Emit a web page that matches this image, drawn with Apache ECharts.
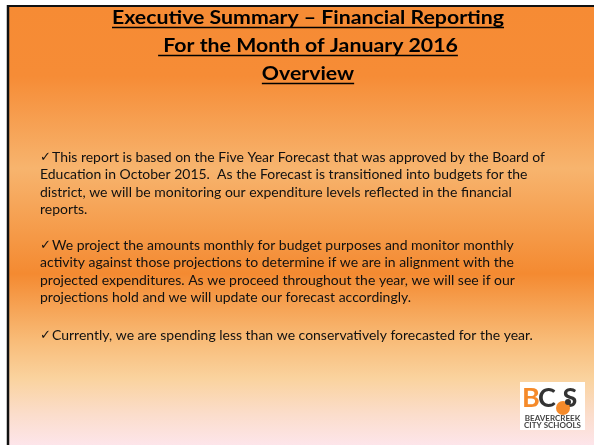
<!DOCTYPE html>
<html>
<head>
<meta charset="utf-8">
<script src="https://cdn.jsdelivr.net/npm/echarts@6/dist/echarts.min.js"></script>
<style>
html,body{margin:0;padding:0;background:#fff;}
#main{width:594px;height:445px;}
</style>
</head>
<body>
<div id="main"></div>
<script>
// ---- content ----
const titleLines = [
  "Executive Summary \u2013 Financial Reporting",
  " For the Month of January 2016",
  "Overview"
];
const bulletMark = "\u2713";
const paragraph1 = [
  "This report is based on the Five Year Forecast that was approved by the Board of",
  "Education in October 2015.  As the Forecast is transitioned into budgets for the",
  "district, we will be monitoring our expenditure levels reflected in the financial",
  "reports."
];
const paragraph2 = [
  "We project the amounts monthly for budget purposes and monitor monthly",
  "activity against those projections to determine if we are in alignment with the",
  "projected expenditures. As we proceed throughout the year, we will see if our",
  "projections hold and we will update our forecast accordingly."
];
const paragraph3 = [
  "Currently, we are spending less than we conservatively forecasted for the year."
];
const logoLetters = ["B", "C", "S"];
const logoLines = ["BEAVERCREEK", "CITY SCHOOLS"];

// ---- layout ----
const W = 594, H = 445;
const titleFont = 'bold 19px Lato';
const bodyFont = '14px Lato';
const checkFont = '13px "DejaVu Sans"';
const cv = document.createElement('canvas').getContext('2d');
function measure(font, s){ cv.font = font; return cv.measureText(s).width; }
const titleScale = 392 / measure(titleFont, titleLines[0]);
const bodyScale = (545 - 52) / measure(bodyFont, paragraph1[0]);

const chart = echarts.init(document.getElementById('main'), null, {renderer:'canvas'});
const elements = [];

// slide background
elements.push({
  type:'rect', shape:{x:8, y:6, width:W-8, height:H-6}, silent:true,
  style:{fill:{type:'linear', x:0, y:0, x2:0, y2:1, colorStops:[
    {offset:0.00, color:'#F68B34'},
    {offset:0.16, color:'#F68C36'},
    {offset:0.37, color:'#F7B46E'},
    {offset:0.61, color:'#F48A31'},
    {offset:0.76, color:'#F8BB77'},
    {offset:0.85, color:'#FAD39F'},
    {offset:0.93, color:'#FBDDCB'},
    {offset:1.00, color:'#FDE5EA'}
  ]}}
});
// border
elements.push({type:'line', shape:{x1:7, y1:6, x2:W, y2:6}, style:{stroke:'#111', lineWidth:2}});
elements.push({type:'line', shape:{x1:8, y1:5, x2:8, y2:H}, style:{stroke:'#111', lineWidth:2.5}});

// title
const titleCx = 308;
const titleY = [18, 46, 74];
titleLines.forEach((t, i) => {
  const w = measure(titleFont, t) * titleScale;
  elements.push({
    type:'text', x:titleCx, y:titleY[i], scaleX:titleScale, originX:0,
    style:{text:t, font:titleFont, fill:'#000', align:'center', verticalAlign:'middle'}
  });
  elements.push({type:'line', shape:{x1:titleCx - w/2, y1:titleY[i]+9.5, x2:titleCx + w/2, y2:titleY[i]+9.5},
    style:{stroke:'#000', lineWidth:1.6}});
});

// body
function addPara(lines, y0){
  elements.push({
    type:'text', x:40, y:y0 + 0.5,
    style:{text:bulletMark, font:checkFont, fill:'#111', align:'left', verticalAlign:'middle'}
  });
  lines.forEach((t, i) => {
    elements.push({
      type:'text', x: i === 0 ? 52 : 40, y:y0 + i*17.6, scaleX:bodyScale, originX:0,
      style:{text:t, font:bodyFont, fill:'#111', align:'left', verticalAlign:'middle'}
    });
  });
}
addPara(paragraph1, 157);
addPara(paragraph2, 245);
addPara(paragraph3, 335);

// logo
elements.push({type:'rect', shape:{x:520, y:382, width:65, height:48}, style:{fill:'#fff'}});
const letterX = [531, 547, 570];
const letterColor = ['#F58A2A', '#333', '#333'];
logoLetters.forEach((l, i) => {
  elements.push({type:'text', x:letterX[i], y:398, style:{text:l, font:'bold 27px Lato', fill:letterColor[i], align:'center', verticalAlign:'middle'}});
});
elements.push({type:'circle', shape:{cx:563, cy:408, r:7}, style:{fill:'#F58A2A'}});
elements.push({type:'circle', shape:{cx:568, cy:402, r:3}, style:{fill:'#333'}});
logoLines.forEach((t, i) => {
  elements.push({type:'text', x:552.5, y:418 + i*7, style:{text:t, font:'bold 8px Lato', fill:'#444', align:'center', verticalAlign:'middle'}});
});

chart.setOption({animation:false, graphic:{elements}});
</script>
</body>
</html>
